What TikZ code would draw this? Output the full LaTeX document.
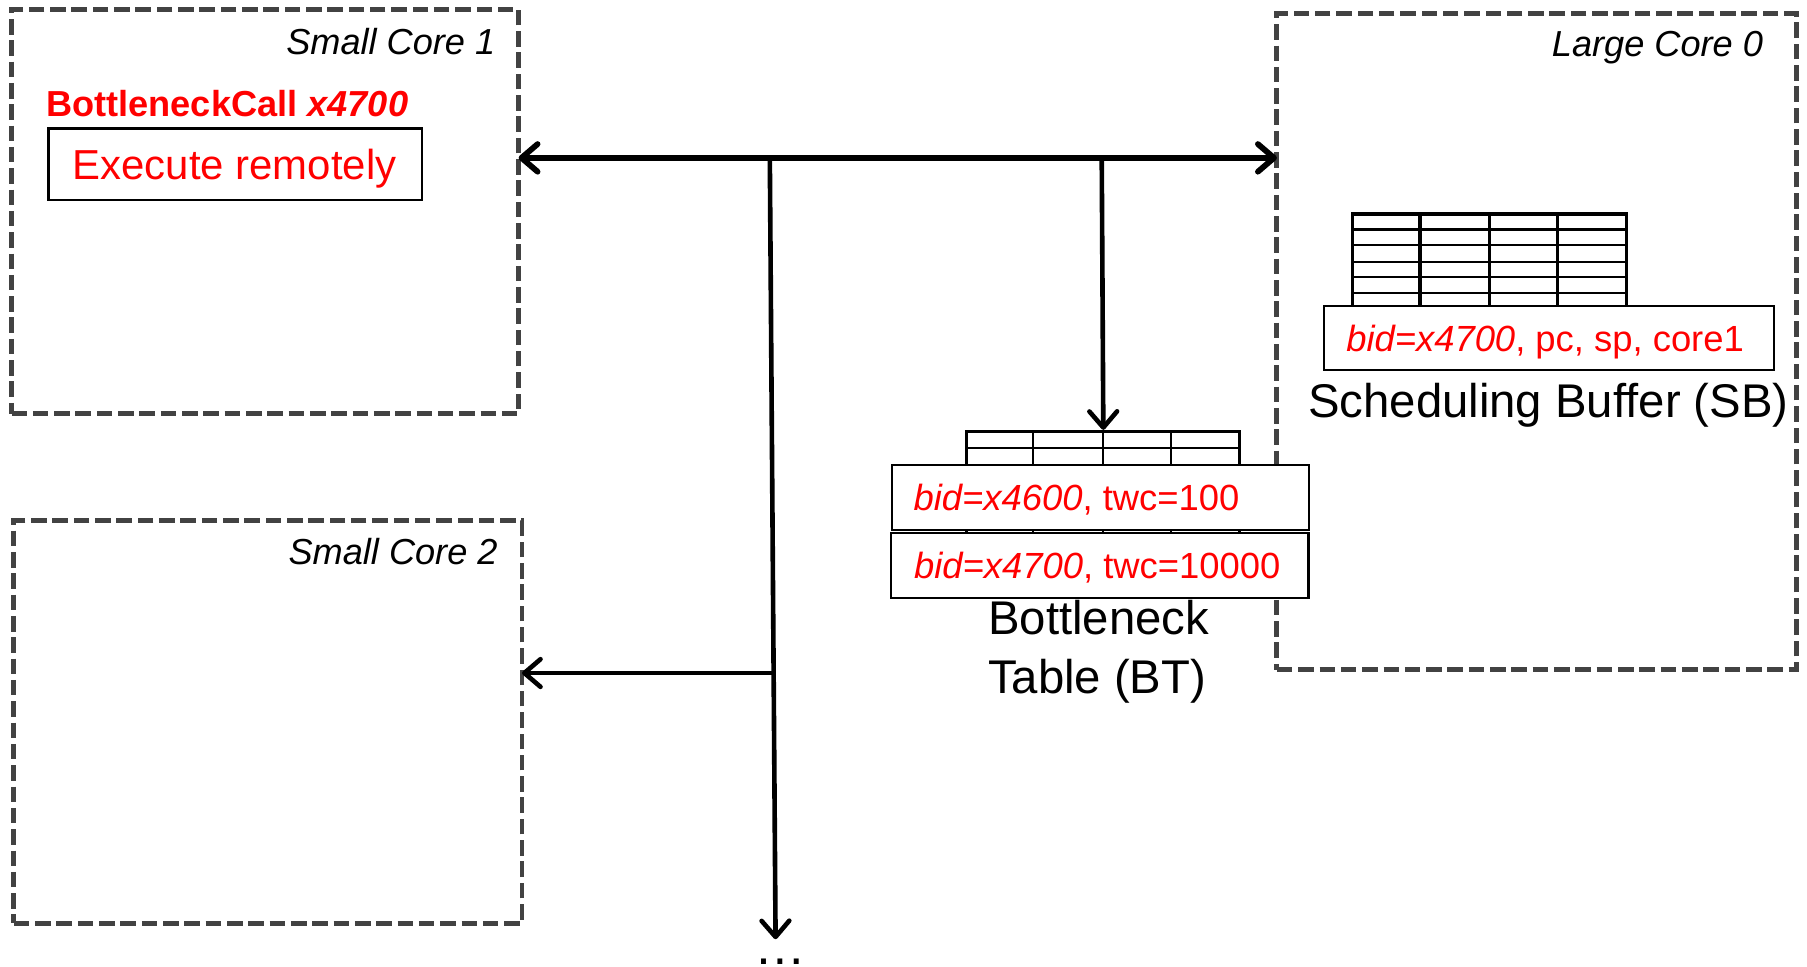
\documentclass[tikz,border=0pt]{standalone}
\usepackage{fontspec}
\setmainfont{Liberation Sans}
\usetikzlibrary{arrows.meta}
\definecolor{dashgray}{HTML}{424242}
\definecolor{txtred}{HTML}{FF0000}
\begin{document}
\begin{tikzpicture}[x=1bp,y=-1bp,
  corebox/.style={draw=dashgray, line width=4.2bp, dash pattern=on 13.5bp off 5bp, rectangle, inner sep=0pt, outer sep=0pt, anchor=north west},
  corelabel/.style={font=\fontsize{31.5}{36}\selectfont\itshape, anchor=base east, inner sep=0pt},
  entrybox/.style={draw=black, line width=2bp, fill=white, rectangle, inner sep=0pt, outer sep=0pt, anchor=north west},
  redtxt/.style={text=txtred, anchor=base west, inner sep=0pt, font=\fontsize{31.7}{36}\selectfont},
  bigtxt/.style={anchor=base, inner sep=0pt, font=\fontsize{41.2}{48}\selectfont},
  tip/.style={-{Straight Barb[length=14bp,width=24bp,round]}},
  bus/.style={line width=5bp},
  wire/.style={line width=4bp},
  gridthick/.style={line width=3bp},
  gridthin/.style={line width=2bp}
]
\useasboundingbox (0,0) rectangle (1568,839);

% cores
\node[corebox, minimum width=440bp, minimum height=351bp] (sc1) at (10,8) {};
\node[corebox, minimum width=441bp, minimum height=349bp] (sc2) at (12,452) {};
\node[corebox, minimum width=451bp, minimum height=569bp] (lc0) at (1108,12) {};
\node[corelabel] (sc1lab) at (430,47) {Small Core 1};
\node[corelabel] (sc2lab) at (432,490) {Small Core 2};
\node[corelabel] (lc0lab) at (1530,49) {Large Core 0};

% small core 1 contents
\node[text=txtred, anchor=base west, inner sep=0pt, font=\fontsize{31.5}{36}\selectfont\bfseries] (bcall) at (40,101) {BottleneckCall \itshape x4700};
\node[entrybox, minimum width=324bp, minimum height=62bp] (exec) at (42,111.4) {};
\node[text=txtred, anchor=base, inner sep=0pt, font=\fontsize{36.5}{40}\selectfont] (exectxt) at (203.5,156) {Execute remotely};

% interconnect
\coordinate (j1) at (668,137);
\coordinate (j2) at (956,137);
\coordinate (bottom) at (673,815);
\coordinate (j3) at (671.3,584);
\draw[bus, tip] (j1) -- (sc1.east |- j1);
\draw[bus, tip] (j1) -- (lc0.west |- j1);
\draw[wire, tip] (j1) -- (bottom);
\draw[wire, tip] (j3) -- (sc2.east |- j3);
\node[anchor=base, inner sep=0pt, font=\fontsize{45}{48}\selectfont] (dots) at (677,837) {…};

% scheduling buffer grid
\foreach \yy in {199.1,212.7,227.4,240.5,254.4} \draw[gridthin] (1173.8,\yy) -- (1411.2,\yy);
\foreach \xx in {1232.1,1292.5,1351.7} \draw[gridthick] (\xx,185.6) -- (\xx,265.3);
\draw[gridthick] (1173.8,265.3) -- (1173.8,185.6) -- (1411.2,185.6) -- (1411.2,265.3);
\node[entrybox, minimum width=390bp, minimum height=55.7bp] (sbent) at (1149.1,265.3) {};
\node[redtxt] (sbtxt) at (1168,305) {\itshape bid=x4700\upshape, pc, sp, core1};
\node[bigtxt, anchor=base west] (sblab) at (1135,362) {Scheduling Buffer (SB)};

% bottleneck table grid
\coordinate (btin) at (957.4,373);
\draw[wire, tip] (j2) -- (btin);
\draw[gridthin] (838.8,388.5) -- (1075.4,388.5);
\foreach \xx in {896.2,957.4,1016.1} \draw[gridthin] (\xx,374.6) -- (\xx,515);
\draw[gridthick] (838.8,515) -- (838.8,374.6) -- (1075.4,374.6) -- (1075.4,515);
\node[entrybox, minimum width=362.1bp, minimum height=56.4bp] (bt1) at (773.8,403.5) {};
\node[entrybox, minimum width=362.4bp, minimum height=56.4bp] (bt2) at (773,462.2) {};
\node[redtxt] (bt1txt) at (792.6,443.4) {\itshape bid=x4600\upshape, twc=100};
\node[redtxt] (bt2txt) at (793,501.8) {\itshape bid=x4700\upshape, twc=10000};
\node[bigtxt] (btlab1) at (953.3,551) {Bottleneck};
\node[bigtxt] (btlab2) at (952,601.6) {Table (BT)};
\end{tikzpicture}
\end{document}
